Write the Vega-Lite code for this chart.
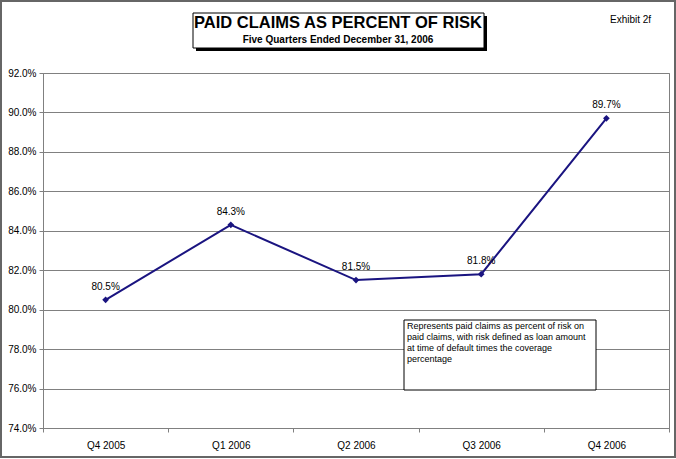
{
  "$schema": "https://vega.github.io/schema/vega-lite/v6.json",
  "width": 626,
  "height": 355,
  "autosize": {"type": "none"},
  "padding": {"left": 43, "top": 73, "right": 7, "bottom": 31},
  "background": "white",
  "config": {
    "font": "Liberation Sans",
    "view": {"stroke": "#808080", "strokeWidth": 1}
  },
  "datasets": {
    "main": [
      {"quarter": "Q4 2005", "value": 0.805},
      {"quarter": "Q1 2006", "value": 0.843},
      {"quarter": "Q2 2006", "value": 0.815},
      {"quarter": "Q3 2006", "value": 0.818},
      {"quarter": "Q4 2006", "value": 0.897}
    ],
    "frame": [{"name": "frame"}],
    "titles": [
      {"text": "PAID CLAIMS AS PERCENT OF RISK", "kind": "main"},
      {"text": "Five Quarters Ended December 31, 2006", "kind": "sub"}
    ],
    "note": [{"text": ["Represents paid claims as percent of risk on", "paid claims, with risk defined as loan amount", "at time of default times the coverage", "percentage"]}],
    "exhibit": [{"text": "Exhibit 2f"}]
  },
  "layer": [
    {
      "data": {"name": "frame"},
      "mark": {"type": "rect", "fill": null, "fillOpacity": 0, "stroke": "#666666", "strokeWidth": 2},
      "encoding": {"x": {"value": -42}, "x2": {"value": 632}, "y": {"value": -72}, "y2": {"value": 384}}
    },
    {
      "data": {"name": "frame"},
      "mark": {"type": "rect", "fill": "black"},
      "encoding": {"x": {"value": 153}, "x2": {"value": 444}, "y": {"value": -57}, "y2": {"value": -22}}
    },
    {
      "data": {"name": "frame"},
      "mark": {"type": "rect", "fill": "white", "stroke": "black", "strokeWidth": 1},
      "encoding": {"x": {"value": 150}, "x2": {"value": 441}, "y": {"value": -60}, "y2": {"value": -25}}
    },
    {
      "data": {"name": "titles"},
      "transform": [{"filter": "datum.kind === 'main'"}],
      "mark": {"type": "text", "fontSize": 16.5, "fontWeight": "bold", "align": "center", "baseline": "alphabetic", "color": "black"},
      "encoding": {"x": {"value": 295}, "y": {"value": -45}, "text": {"field": "text"}}
    },
    {
      "data": {"name": "titles"},
      "transform": [{"filter": "datum.kind === 'sub'"}],
      "mark": {"type": "text", "fontSize": 10, "fontWeight": "bold", "align": "center", "baseline": "alphabetic", "color": "black"},
      "encoding": {"x": {"value": 295}, "y": {"value": -30}, "text": {"field": "text"}}
    },
    {
      "data": {"name": "exhibit"},
      "mark": {"type": "text", "fontSize": 10, "align": "left", "baseline": "middle", "color": "black"},
      "encoding": {"x": {"value": 567}, "y": {"value": -53}, "text": {"field": "text"}}
    },
    {
      "data": {"name": "main"},
      "mark": {"type": "line", "color": "#1a1480", "strokeWidth": 2},
      "encoding": {
        "x": {
          "field": "quarter", "type": "ordinal", "sort": null,
          "axis": {"title": null, "labelAngle": 0, "labelFontSize": 10, "labelColor": "black", "labelPadding": 8,
                   "domainColor": "#808080", "tickColor": "#808080", "tickSize": 4, "tickBand": "extent", "grid": false}
        },
        "y": {
          "field": "value", "type": "quantitative",
          "scale": {"domain": [0.74, 0.92], "nice": false, "zero": false},
          "axis": {"title": null, "format": ".1%", "values": [0.74, 0.76, 0.78, 0.8, 0.82, 0.84, 0.86, 0.88, 0.9, 0.92],
                   "tickCount": 12,
                   "labelFontSize": 10, "labelColor": "black", "labelPadding": 3, "labelOverlap": false,
                   "domainColor": "#808080", "tickColor": "#808080", "tickSize": 4,
                   "grid": true, "gridColor": "#808080", "gridWidth": 1}
        }
      }
    },
    {
      "data": {"name": "main"},
      "mark": {"type": "point", "shape": "diamond", "filled": true, "color": "#1a1480", "size": 45, "opacity": 1},
      "encoding": {
        "x": {"field": "quarter", "type": "ordinal", "sort": null},
        "y": {"field": "value", "type": "quantitative"}
      }
    },
    {
      "data": {"name": "main"},
      "mark": {"type": "text", "fontSize": 10, "color": "black", "dy": -13, "baseline": "middle"},
      "encoding": {
        "x": {"field": "quarter", "type": "ordinal", "sort": null},
        "y": {"field": "value", "type": "quantitative"},
        "text": {"field": "value", "format": ".1%"}
      }
    },
    {
      "data": {"name": "frame"},
      "mark": {"type": "rect", "fill": "white", "stroke": "black", "strokeWidth": 1},
      "encoding": {"x": {"value": 361}, "x2": {"value": 553}, "y": {"value": 247}, "y2": {"value": 317}}
    },
    {
      "data": {"name": "note"},
      "mark": {"type": "text", "fontSize": 9, "align": "left", "baseline": "top", "lineHeight": 11, "color": "black"},
      "encoding": {"x": {"value": 364}, "y": {"value": 249}, "text": {"field": "text"}}
    }
  ]
}
